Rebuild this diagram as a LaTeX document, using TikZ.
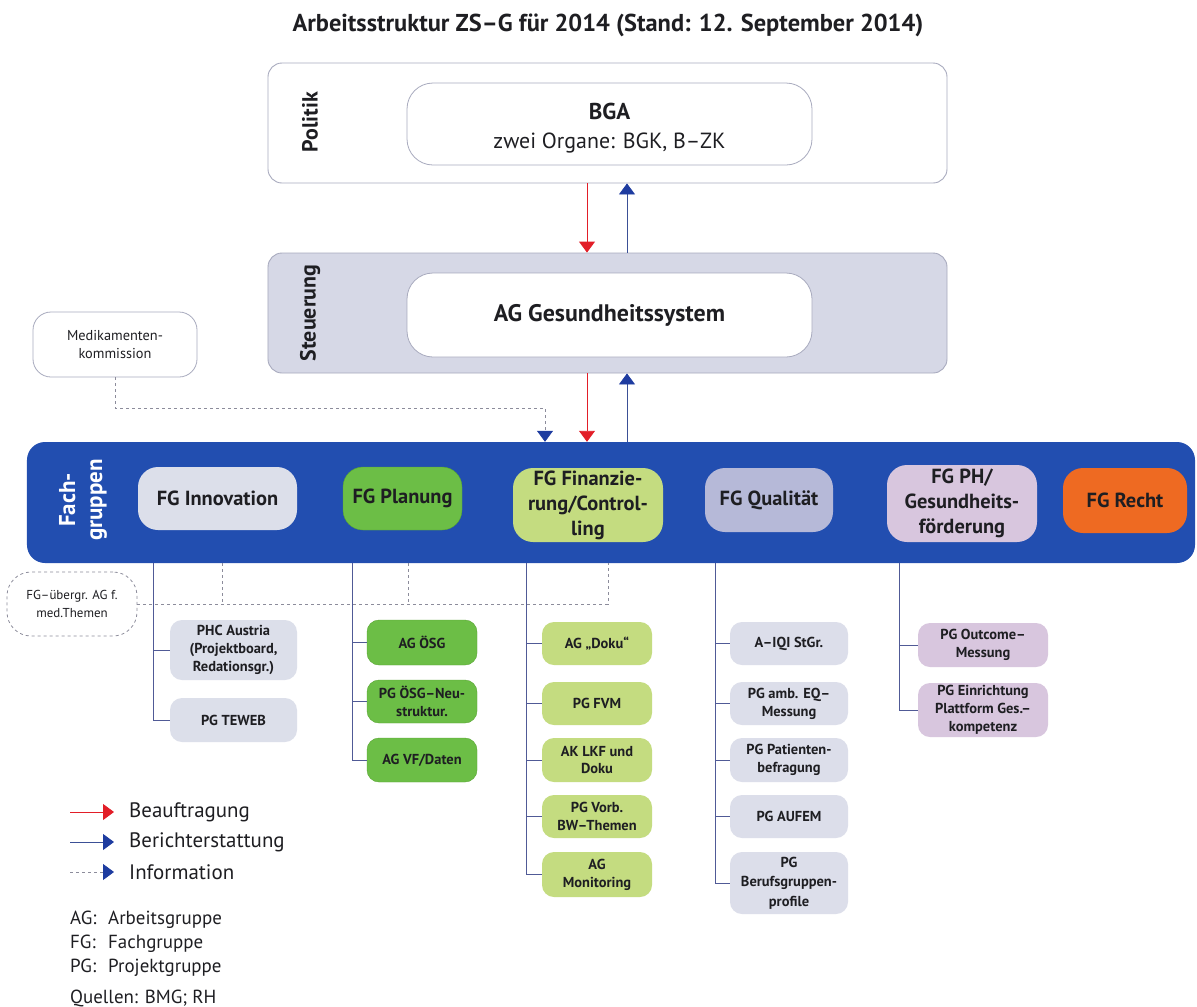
\documentclass[tikz,border=0pt]{standalone}
\usepackage{fontspec}
\setmainfont{PT Sans}
\usetikzlibrary{arrows.meta}
\definecolor{bordergray}{RGB}{168,170,190}
\definecolor{steufill}{RGB}{214,216,230}
\definecolor{barblue}{RGB}{34,78,176}
\definecolor{innofill}{RGB}{220,223,234}
\definecolor{planfill}{RGB}{108,190,70}
\definecolor{planline}{RGB}{88,165,50}
\definecolor{finfill}{RGB}{196,220,128}
\definecolor{qualfill}{RGB}{182,185,216}
\definecolor{qualkid}{RGB}{220,222,234}
\definecolor{phfill}{RGB}{216,198,222}
\definecolor{rechtfill}{RGB}{238,106,34}
\definecolor{textdark}{RGB}{30,30,34}
\definecolor{linecol}{RGB}{80,90,150}
\definecolor{dashcol}{RGB}{140,140,155}
\definecolor{arrred}{RGB}{226,30,40}
\definecolor{arrblue}{RGB}{30,60,160}
\newcommand{\fsz}[2]{\fontsize{#1}{#2}\selectfont}
\tikzset{
  lane/.style={draw=bordergray, line width=0.9pt, rounded corners=14bp, inner sep=0pt},
  innerbox/.style={draw=bordergray, fill=white, line width=0.8pt, rounded corners=26bp, inner sep=0pt, align=center, text=textdark},
  fgbox/.style={rounded corners=20bp, inner sep=0pt, align=center, text=textdark, font=\bfseries\fsz{20.5}{25}},
  kid/.style={rounded corners=12bp, inner sep=0pt, align=center, text=textdark, font=\bfseries\fsz{14.5}{18}},
  conn/.style={draw=linecol, line width=0.9pt},
  dashline/.style={draw=dashcol, line width=0.8pt, dash pattern=on 3bp off 3bp},
  redar/.style={draw=arrred, line width=0.9pt, -{Triangle[width=16bp,length=11bp,fill=arrred]}},
  bluar/.style={draw=arrblue!70!gray, line width=0.9pt, -{Triangle[width=16bp,length=11bp,fill=arrblue,color=arrblue]}},
  dashar/.style={dashline, -{Triangle[width=16bp,length=11bp,fill=arrblue,color=arrblue]}},
  lanelabel/.style={rotate=90, font=\bfseries\fsz{22}{26}, text=textdark, inner sep=0pt},
  txt/.style={inner sep=0pt, text=textdark}
}
\begin{document}
\begin{tikzpicture}[x=1bp,y=-1bp]
\useasboundingbox[fill=white] (0,0) rectangle (1197,1007);

% title
\node[txt, font=\bfseries\fsz{24.5}{28}] (title) at (608,25) {Arbeitsstruktur ZS–G für 2014 (Stand: 12. September 2014)};

% Politik
\node[lane, fill=white, minimum width=679bp, minimum height=120bp] (pol) at (607.5,123) {};
\node[lanelabel] (pollab) at (310,122) {Politik};
\node[innerbox, minimum width=405bp, minimum height=82bp] (bga) at (609.5,124) {};
\node[txt, font=\bfseries\fsz{23}{26}] (bgat) at (609.5,111) {BGA};
\node[txt, font=\fsz{22}{26}] (bgas) at (609.5,143) {zwei Organe: BGK, B–ZK};

% Steuerung
\node[lane, fill=steufill, minimum width=679bp, minimum height=120bp] (steu) at (607.5,313) {};
\node[lanelabel] (steulab) at (310,313) {Steuerung};
\node[innerbox, minimum width=405bp, minimum height=84bp, font=\bfseries\fsz{24}{28}] (agg) at (609.5,315) {AG Gesundheitssystem};

% arrows Politik/Steuerung
\coordinate (xr) at (587,0);
\coordinate (xb) at (627,0);
\coordinate (xd) at (545,0);
\draw[redar] (pol.south -| xr) -- (steu.north -| xr);
\draw[bluar] (steu.north -| xb) -- (pol.south -| xb);

% Medikamentenkommission
\node[draw=bordergray, fill=white, line width=0.8pt, rounded corners=18bp, minimum width=164bp, minimum height=65bp, align=center, text=textdark, font=\fsz{14.4}{18}] (med) at (115,344.5) {Medikamenten-\\kommission};

% Fachgruppen bar
\node[fill=barblue, rounded corners=18bp, minimum width=1168bp, minimum height=121bp, inner sep=0pt] (bar) at (611,502.5) {};
\node[rotate=90, font=\bfseries\fsz{23}{27}, text=white, align=center, inner sep=0pt] (barlab) at (83,500) {Fach-\\gruppen};

\draw[redar] (steu.south -| xr) -- (bar.north -| xr);
\draw[bluar] (bar.north -| xb) -- (steu.south -| xb);
\draw[dashar] (med.south) |- (545,408) -- (bar.north -| xd);

% FG boxes
\node[fgbox, fill=innofill, minimum width=159bp, minimum height=63bp] (inno) at (217.5,498.5) {FG Innovation};
\node[fgbox, fill=planfill, draw=planline, minimum width=119bp, minimum height=63bp] (plan) at (402.5,498.5) {FG Planung};
\node[fgbox, fill=finfill, minimum width=150bp, minimum height=74bp] (fin) at (588,505) {FG Finanzie-\\rung/Control-\\ling};
\node[fgbox, fill=qualfill, minimum width=128bp, minimum height=64bp] (qual) at (769,500) {FG Qualität};
\node[fgbox, fill=phfill, minimum width=150bp, minimum height=77bp] (ph) at (962,503.5) {FG PH/\\Gesundheits-\\förderung};
\node[fgbox, fill=rechtfill, minimum width=124bp, minimum height=65bp] (recht) at (1125,500.5) {FG Recht};

% FG-uebergreifende AG
\node[dashline, rounded corners=24bp, minimum width=130bp, minimum height=64bp, align=center, text=textdark, font=\fsz{13}{18}, inner sep=0pt] (ueb) at (72,604) {FG–übergr. AG f.\\med.Themen};
\coordinate (d1) at (222,0);
\coordinate (d2) at (408,0);
\coordinate (d3) at (608,0);
\draw[dashline] (ueb.east) -- (608,604) -- (bar.south -| d3);
\draw[dashline] (bar.south -| d1) -- (222,604);
\draw[dashline] (bar.south -| d2) -- (408,604);

% children: Innovation
\node[kid, fill=innofill, minimum width=127bp, minimum height=60bp] (phc) at (233.5,650) {PHC Austria\\(Projektboard,\\Redationsgr.)};
\node[kid, fill=innofill, minimum width=127bp, minimum height=44bp] (teweb) at (233.5,720) {PG TEWEB};
\coordinate (tInno) at (153,563);
\draw[conn] (tInno) |- (phc.west);
\draw[conn] (tInno) |- (teweb.west);

% children: Planung
\node[kid, fill=planfill, draw=planline, minimum width=110bp, minimum height=45bp] (osg) at (422,642.5) {AG ÖSG};
\node[kid, fill=planfill, draw=planline, minimum width=110bp, minimum height=43bp] (osgneu) at (422,701.5) {PG ÖSG–Neu-\\struktur.};
\node[kid, fill=planfill, draw=planline, minimum width=110bp, minimum height=44bp] (vf) at (422,760) {AG VF/Daten};
\coordinate (tPlan) at (352,563);
\draw[conn] (tPlan) |- (osg.west);
\draw[conn] (tPlan) |- (osgneu.west);
\draw[conn] (tPlan) |- (vf.west);

% children: Finanzierung
\node[kid, fill=finfill, minimum width=110bp, minimum height=43bp] (doku) at (597,643.5) {AG „Doku“};
\node[kid, fill=finfill, minimum width=110bp, minimum height=43bp] (fvm) at (597,703.5) {PG FVM};
\node[kid, fill=finfill, minimum width=110bp, minimum height=44bp] (lkf) at (597,760) {AK LKF und\\Doku};
\node[kid, fill=finfill, minimum width=110bp, minimum height=43bp] (vorb) at (597,816.5) {PG Vorb.\\BW–Themen};
\node[kid, fill=finfill, minimum width=110bp, minimum height=45bp] (moni) at (597,874.5) {AG\\Monitoring};
\coordinate (tFin) at (526,563);
\foreach \k in {doku,fvm,lkf,vorb,moni} \draw[conn] (tFin) |- (\k.west);

% children: Qualitaet
\node[kid, fill=qualkid, minimum width=118bp, minimum height=43bp] (iqi) at (789,643.5) {A–IQI StGr.};
\node[kid, fill=qualkid, minimum width=118bp, minimum height=43bp] (amb) at (789,703.5) {PG amb. EQ–\\Messung};
\node[kid, fill=qualkid, minimum width=118bp, minimum height=44bp] (pat) at (789,760) {PG Patienten-\\befragung};
\node[kid, fill=qualkid, minimum width=118bp, minimum height=43bp] (aufem) at (789,816.5) {PG AUFEM};
\node[kid, fill=qualkid, minimum width=118bp, minimum height=62bp, font=\bfseries\fsz{14.5}{19.5}] (beruf) at (789,883) {PG\\Berufsgruppen-\\profile};
\coordinate (tQual) at (715,563);
\foreach \k in {iqi,amb,pat,aufem,beruf} \draw[conn] (tQual) |- (\k.west);

% children: PH
\node[kid, fill=phfill, minimum width=130bp, minimum height=44bp] (outc) at (983,645) {PG Outcome–\\Messung};
\node[kid, fill=phfill, minimum width=130bp, minimum height=54bp] (einr) at (983,710) {PG Einrichtung\\Plattform Ges.–\\kompetenz};
\coordinate (tPH) at (899,563);
\draw[conn] (tPH) |- (outc.west);
\draw[conn] (tPH) |- (einr.west);

% legend
\coordinate (l1a) at (70,812); \coordinate (l1b) at (114,812);
\coordinate (l2a) at (70,842); \coordinate (l2b) at (114,842);
\coordinate (l3a) at (70,872); \coordinate (l3b) at (114,872);
\draw[redar] (l1a) -- (l1b);
\draw[bluar] (l2a) -- (l2b);
\draw[dashar] (l3a) -- (l3b);
\node[txt, anchor=west, font=\fsz{21}{24}] (lt1) at (129,812) {Beauftragung};
\node[txt, anchor=west, font=\fsz{21}{24}] (lt2) at (129,842) {Berichterstattung};
\node[txt, anchor=west, font=\fsz{21}{24}] (lt3) at (129,872) {Information};

\node[txt, anchor=base west, font=\fsz{19}{22}] (ab1) at (70,924) {AG:};
\node[txt, anchor=base west, font=\fsz{19}{22}] (ab1t) at (108,924) {Arbeitsgruppe};
\node[txt, anchor=base west, font=\fsz{19}{22}] (ab2) at (70,948) {FG:};
\node[txt, anchor=base west, font=\fsz{19}{22}] (ab2t) at (108,948) {Fachgruppe};
\node[txt, anchor=base west, font=\fsz{19}{22}] (ab3) at (70,972) {PG:};
\node[txt, anchor=base west, font=\fsz{19}{22}] (ab3t) at (108,972) {Projektgruppe};
\node[txt, anchor=base west, font=\fsz{19}{22}] (src) at (70,1003) {Quellen: BMG; RH};
\end{tikzpicture}
\end{document}
